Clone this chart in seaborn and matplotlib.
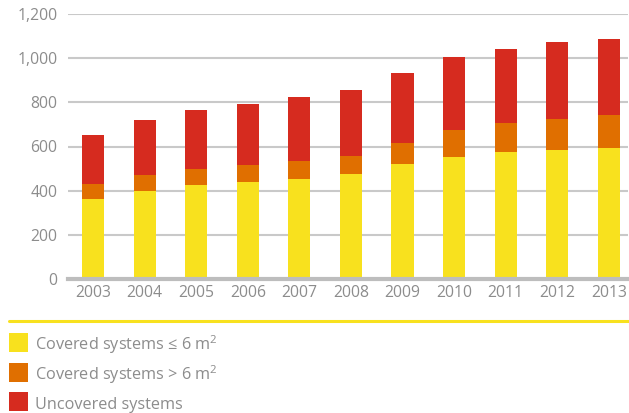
import matplotlib
matplotlib.use("Agg")
import matplotlib.pyplot as plt
from matplotlib.patches import Rectangle
from matplotlib.lines import Line2D
import numpy as np
import pandas as pd
import seaborn as sns

years = ["2003", "2004", "2005", "2006", "2007", "2008", "2009", "2010", "2011", "2012", "2013"]
covered_small = [363, 399, 426, 440, 453, 476, 521, 553, 575, 584, 593]
covered_large = [68, 72, 72, 76, 81, 81, 95, 122, 131, 140, 149]
uncovered = [221, 249, 267, 276, 290, 298, 316, 329, 334, 348, 344]
yticks = [0, 200, 400, 600, 800, 1000, 1200]
series_names = ["Covered systems \u2264 6 m$^{\\mathregular{2}}$",
                "Covered systems > 6 m$^{\\mathregular{2}}$",
                "Uncovered systems"]
colors = ["#F8E11E", "#E06F00", "#D62B1F"]

sns.set_theme(style="white")
plt.rcParams["font.family"] = ["Open Sans", "DejaVu Sans"]
plt.rcParams["mathtext.fontset"] = "custom"
plt.rcParams["mathtext.rm"] = "Open Sans"
text_gray = "#8C8C8C"

df = pd.DataFrame({
    "year": years,
    "small": covered_small,
    "large": covered_large,
    "uncov": uncovered,
})
df["lvl1"] = df["small"]
df["lvl2"] = df["small"] + df["large"]
df["lvl3"] = df["lvl2"] + df["uncov"]

fig = plt.figure(figsize=(6.29, 4.13), dpi=100)
W, H = 629, 413
ax = fig.add_axes([68 / W, (H - 279.3) / H, (628 - 68) / W, (279.3 - 13.7) / H])

# stacked bars: draw cumulative totals from the top layer down
for col, c in zip(["lvl3", "lvl2", "lvl1"], colors[::-1]):
    sns.barplot(data=df, x="year", y=col, color=c, width=0.43, ax=ax,
                saturation=1, edgecolor="none", linewidth=0, zorder=3)

ax.set_ylim(0, 1200)
ax.set_xlim(-0.485, 10.37)
ax.set_yticks(yticks)
ax.set_yticklabels([f"{v:,}" for v in yticks])
ax.yaxis.grid(True, color="#C9C9C9", linewidth=1.5, zorder=0)
ax.set_axisbelow(True)
for s in ["top", "right", "left"]:
    ax.spines[s].set_visible(False)
ax.spines["bottom"].set_color("#BDBDBD")
ax.spines["bottom"].set_linewidth(3)
ax.spines["bottom"].set_zorder(4)
ax.set_xlabel("")
ax.set_ylabel("")
ax.tick_params(axis="y", length=0, pad=7.5, labelsize=11.3, labelcolor=text_gray)
ax.tick_params(axis="x", length=0, pad=4, labelsize=11.3, labelcolor=text_gray)

# yellow separator line above the legend
fig.add_artist(Line2D([9 / W, 1.0], [(H - 321) / H] * 2, color="#F8E11E",
                      linewidth=2.2, transform=fig.transFigure))

# legend: square swatches with labels, evenly spaced rows
row_pitch = 29.5
for i, (name, c) in enumerate(zip(series_names, colors)):
    top = 333 + row_pitch * i
    fig.add_artist(Rectangle((9 / W, (H - top - 19) / H), 19 / W, 19 / H,
                             transform=fig.transFigure, facecolor=c,
                             edgecolor="none"))
    fig.text(35 / W, (H - top - 17) / H, name, ha="left", va="baseline",
             fontsize=11.7, color=text_gray)

fig.savefig("out.png", dpi=100)
